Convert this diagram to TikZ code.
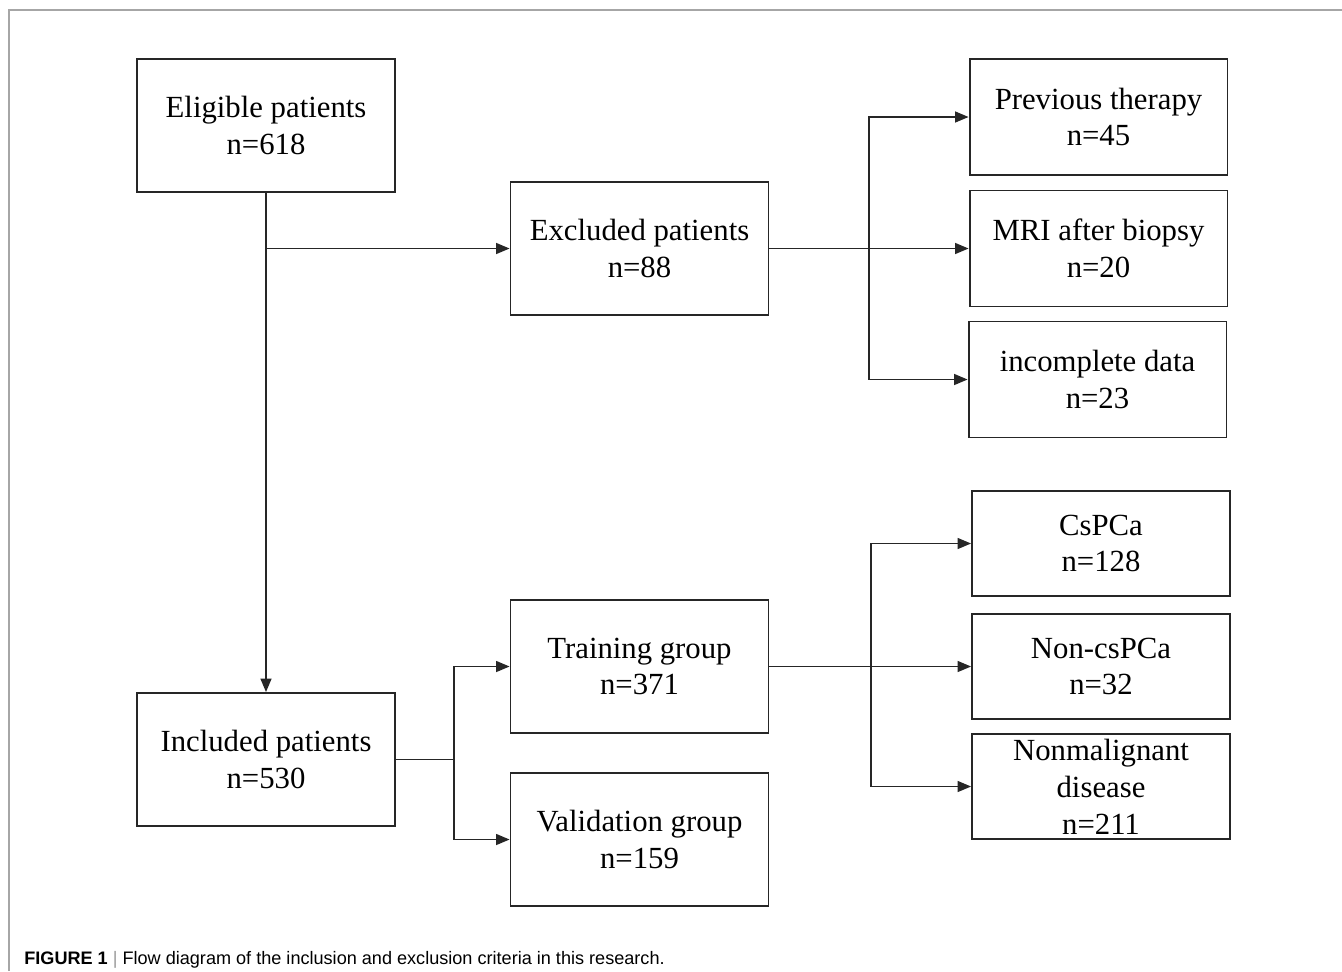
\documentclass[tikz,border=0pt]{standalone}
\usepackage{fontspec}
\setmainfont{Liberation Serif}
\newfontfamily\capfont{Liberation Sans}
\usetikzlibrary{arrows.meta}
\begin{document}
\begin{tikzpicture}[x=0.02cm,y=-0.02cm,
 box/.style={draw=black!85, line width=1.1pt, minimum width=5.16cm, minimum height=2.66cm, inner sep=0pt, align=center, font=\fontsize{17.5}{21}\selectfont},
 sbox/.style={box, minimum height=2.32cm},
 tbox/.style={box, minimum height=2.1cm},
 conn/.style={draw=black!85, line width=0.8pt},
 arr/.style={conn, -{Triangle[length=0.27cm,width=0.22cm]}}]
\useasboundingbox (0,0) rectangle (1342,971);
\draw[gray!70, line width=0.8pt] (9,971) -- (9,10) -- (1342,10);

\node[box] (elig) at (266,125.5) {Eligible patients\\n=618};
\node[box] (excl) at (639.5,248.5) {Excluded patients\\n=88};
\node[sbox] (prev) at (1098.5,117) {Previous therapy\\n=45};
\node[sbox] (mri) at (1098.5,248.5) {MRI after biopsy\\n=20};
\node[sbox] (inc) at (1097.5,379.5) {incomplete data\\n=23};
\node[box] (incl) at (266,759.5) {Included patients\\n=530};
\node[box] (train) at (639.5,666.5) {Training group\\n=371};
\node[box] (val) at (639.5,839.5) {Validation group\\n=159};
\node[tbox] (cs) at (1101,543.5) {CsPCa\\n=128};
\node[tbox] (non) at (1101,666.5) {Non-csPCa\\n=32};
\node[tbox] (nm) at (1101,786.5) {Nonmalignant\\disease\\n=211};

\draw[arr] (elig) -- (incl);
\coordinate (j1) at (266,248.5);
\draw[arr] (j1) -- (excl.west);
\coordinate (j2) at (869,248.5);
\draw[conn] (excl.east) -- (j2);
\draw[arr] (j2) |- (prev.west);
\draw[arr] (j2) -- (mri.west);
\draw[arr] (j2) |- (inc.west);
\coordinate (j3) at (454,759.5);
\draw[conn] (incl.east) -- (j3);
\draw[arr] (j3) |- (train.west);
\draw[arr] (j3) |- (val.west);
\coordinate (j4) at (871,666.5);
\draw[conn] (train.east) -- (j4);
\draw[arr] (j4) |- (cs.west);
\draw[arr] (j4) -- (non.west);
\draw[arr] (j4) |- (nm.west);

\node[anchor=base west, font=\capfont\fontsize{10.3}{12}\selectfont, inner sep=0pt] (cap) at (24,964) {\textbf{FIGURE 1} {\color{gray!80}|} Flow diagram of the inclusion and exclusion criteria in this research.};
\end{tikzpicture}
\end{document}
